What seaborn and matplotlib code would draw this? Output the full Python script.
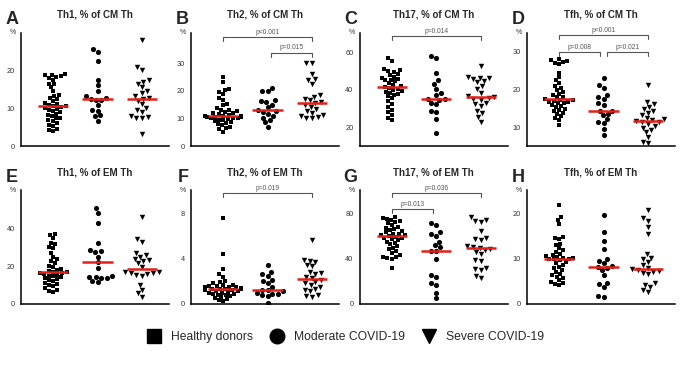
import matplotlib
matplotlib.use("Agg")
import matplotlib.pyplot as plt
from matplotlib.lines import Line2D
import numpy as np
import pandas as pd
import seaborn as sns

GROUPS = ["Healthy donors", "Moderate COVID-19", "Severe COVID-19"]
MARKERS = ["s", "o", "v"]
MARKER_SIZES = [3.1, 3.7, 3.9]

# A: Th1, % of CM Th
th1_cm_healthy = [19.0, 18.8, 18.7, 18.5, 18.3, 18.0, 17.5, 16.5, 16.3, 15.5, 14.5, 13.5, 13.3, 12.8,
                  12.5, 12.0, 11.5, 11.0, 10.8, 10.5, 10.5, 10.3, 10.0, 9.8, 9.5, 9.3, 9.0, 8.5, 8.3,
                  8.0, 7.5, 7.3, 6.8, 6.5, 6.0, 5.5, 5.3, 4.5, 4.3, 4.0]
th1_cm_moderate = [25.7, 24.9, 22.6, 17.6, 16.2, 14.6, 13.2, 12.8, 12.5, 12.3, 12.1, 10.8, 9.5, 9.4,
                   8.1, 7.9, 6.7]
th1_cm_severe = [28.0, 21.0, 20.2, 17.5, 17.0, 16.5, 15.5, 14.5, 14.0, 13.2, 12.6, 12.4, 12.0, 11.0,
                 10.0, 9.5, 9.0, 8.0, 7.6, 7.4, 7.3, 3.2]

# B: Th2, % of CM Th
th2_cm_healthy = [24.9, 23.1, 20.6, 20.2, 19.5, 18.8, 17.3, 16.5, 15.2, 14.7, 13.8, 13.2, 13.0, 12.5,
                  12.3, 12.0, 11.8, 11.5, 11.3, 11.0, 10.9, 10.7, 10.5, 10.4, 10.2, 10.0, 10.0, 9.8,
                  9.6, 9.3, 9.0, 8.7, 8.3, 8.0, 7.6, 7.0, 6.5, 6.0, 5.2, 10.6]
th2_cm_moderate = [21.0, 20.0, 19.8, 16.5, 16.2, 15.8, 14.8, 14.0, 13.0, 12.6, 12.3, 11.7, 11.0, 10.3,
                   9.5, 8.7, 7.0]
th2_cm_severe = [30.2, 30.0, 26.0, 24.2, 24.0, 22.5, 18.3, 17.8, 17.0, 16.5, 16.0, 15.5, 15.0, 14.3,
                 13.5, 12.6, 12.0, 11.2, 10.8, 10.5, 10.2, 10.0]

# C: Th17, % of CM Th
th17_cm_healthy = [56.8, 55.5, 51.0, 50.5, 50.0, 49.5, 48.5, 48.0, 38.0, 47.0, 46.5, 46.0, 45.5, 45.0,
                   44.5, 43.5, 42.5, 42.0, 41.5, 41.0, 40.5, 40.0, 39.5, 39.0, 38.5, 37.5, 36.5, 35.5,
                   34.0, 32.5, 31.0, 29.5, 28.0, 26.5, 25.0, 24.0]
th17_cm_moderate = [57.8, 57.0, 49.0, 45.0, 43.0, 40.5, 38.5, 37.0, 35.2, 35.0, 34.8, 33.0, 32.5, 28.5,
                    28.0, 24.3, 17.2]
th17_cm_severe = [52.5, 46.8, 46.5, 46.3, 46.0, 44.5, 44.0, 42.0, 40.5, 38.5, 36.5, 36.0, 35.5, 35.0,
                  34.5, 33.0, 32.5, 31.5, 28.5, 27.5, 25.5, 23.0]

# D: Tfh, % of CM Th
tfh_cm_healthy = [28.0, 27.8, 27.6, 27.4, 27.1, 26.8, 24.5, 23.3, 22.5, 21.8, 21.0, 20.5, 20.0, 19.5,
                  19.0, 18.6, 18.2, 18.0, 17.6, 17.3, 17.0, 16.8, 16.6, 16.4, 16.0, 15.7, 15.4, 15.0,
                  14.7, 14.3, 14.0, 13.5, 13.0, 12.5, 12.0, 10.7, 17.2, 16.9]
tfh_cm_moderate = [23.1, 21.2, 20.4, 18.7, 18.0, 17.6, 16.4, 16.0, 14.5, 14.4, 13.6, 13.3, 12.3, 11.6,
                   11.2, 9.8, 8.2]
tfh_cm_severe = [21.2, 16.8, 16.2, 15.5, 15.0, 14.5, 14.0, 13.3, 12.6, 12.3, 12.0, 11.7, 11.5, 11.4,
                 11.0, 10.5, 10.0, 9.5, 8.8, 7.5, 6.3, 6.0]

# E: Th1, % of EM Th
th1_em_healthy = [37.0, 36.5, 35.0, 32.0, 31.5, 30.0, 29.5, 27.0, 25.0, 23.5, 22.5, 21.5, 20.0, 19.5,
                  18.5, 18.0, 17.5, 17.0, 16.8, 16.5, 16.2, 15.8, 15.3, 15.0, 14.5, 14.0, 13.5, 13.0,
                  12.5, 12.0, 11.0, 10.5, 10.0, 9.5, 8.5, 7.5, 7.0, 6.3]
th1_em_moderate = [50.6, 48.0, 43.0, 32.0, 28.5, 28.0, 27.5, 25.0, 22.0, 18.9, 14.5, 14.2, 14.0, 13.8,
                   13.5, 12.0, 11.5]
th1_em_severe = [46.2, 34.2, 33.0, 27.0, 26.0, 25.0, 24.0, 23.3, 22.5, 21.5, 19.5, 16.9, 16.8, 16.5,
                 16.3, 15.8, 15.5, 15.0, 10.0, 7.4, 5.5, 3.5]

# F: Th2, % of EM Th
th2_em_healthy = [7.6, 4.4, 3.1, 2.6, 2.4, 2.0, 1.9, 1.8, 1.7, 1.65, 1.6, 1.55, 1.5, 1.5, 1.45, 1.4,
                  1.4, 1.35, 1.35, 1.3, 1.3, 1.25, 1.2, 1.15, 1.1, 1.05, 1.0, 0.95, 0.9, 0.85, 0.8,
                  0.75, 0.7, 0.6, 0.5, 0.4, 0.3, 0.25]
th2_em_moderate = [3.4, 2.85, 2.6, 2.5, 2.1, 2.0, 1.8, 1.5, 1.25, 1.2, 1.1, 0.95, 0.9, 0.9, 0.8, 0.7,
                   0.05]
th2_em_severe = [5.6, 3.9, 3.8, 3.7, 3.4, 3.3, 2.8, 2.7, 2.6, 2.4, 2.25, 2.1, 1.9, 1.8, 1.65, 1.5,
                 1.35, 1.2, 1.1, 0.8, 0.7, 0.65]

# G: Th17, % of EM Th
th17_em_healthy = [76.5, 75.5, 74.8, 74.0, 73.0, 72.0, 71.0, 69.5, 68.0, 67.0, 66.0, 65.0, 64.0, 63.0,
                   62.0, 61.5, 61.0, 60.5, 60.0, 59.0, 58.5, 58.0, 57.0, 56.0, 55.0, 54.0, 52.5, 51.0,
                   49.5, 48.0, 46.5, 45.0, 43.0, 41.5, 41.0, 40.5, 40.0, 31.5]
th17_em_moderate = [71.5, 69.5, 63.5, 62.0, 60.0, 55.0, 52.0, 50.0, 47.0, 46.5, 40.0, 25.5, 24.0, 18.5,
                    16.5, 10.0, 5.0]
th17_em_severe = [76.5, 74.0, 73.0, 72.5, 64.5, 58.5, 57.5, 56.5, 51.0, 50.0, 49.5, 48.5, 47.5, 46.0,
                  44.0, 38.5, 37.5, 31.5, 30.5, 30.0, 24.5, 22.5]

# H: Tfh, % of EM Th
tfh_em_healthy = [21.8, 19.2, 18.6, 17.7, 14.7, 14.5, 14.3, 13.3, 13.0, 12.3, 11.5, 11.1, 10.8, 10.6,
                  10.4, 10.2, 10.1, 10.0, 9.9, 9.8, 9.6, 9.3, 9.0, 8.6, 8.2, 7.8, 7.5, 7.0, 6.6, 6.3,
                  6.0, 5.6, 5.2, 4.8, 4.5, 4.3, 4.1, 11.8]
tfh_em_moderate = [19.6, 15.8, 13.9, 12.2, 9.9, 9.5, 9.0, 8.3, 8.1, 8.0, 7.4, 6.3, 4.6, 4.3, 3.8, 1.8,
                   1.5]
tfh_em_severe = [20.6, 19.0, 18.3, 17.0, 15.4, 10.9, 10.2, 9.8, 9.2, 8.5, 7.8, 7.6, 7.4, 7.2, 7.0, 6.8,
                 6.5, 4.5, 4.1, 3.7, 3.0, 2.6]

PANEL_LETTERS = ["A", "B", "C", "D", "E", "F", "G", "H"]
PANEL_TITLES = ["Th1, % of CM Th", "Th2, % of CM Th", "Th17, % of CM Th", "Tfh, % of CM Th",
                "Th1, % of EM Th", "Th2, % of EM Th", "Th17, % of EM Th", "Tfh, % of EM Th"]
PANEL_DATA = [
    (th1_cm_healthy, th1_cm_moderate, th1_cm_severe),
    (th2_cm_healthy, th2_cm_moderate, th2_cm_severe),
    (th17_cm_healthy, th17_cm_moderate, th17_cm_severe),
    (tfh_cm_healthy, tfh_cm_moderate, tfh_cm_severe),
    (th1_em_healthy, th1_em_moderate, th1_em_severe),
    (th2_em_healthy, th2_em_moderate, th2_em_severe),
    (th17_em_healthy, th17_em_moderate, th17_em_severe),
    (tfh_em_healthy, tfh_em_moderate, tfh_em_severe),
]
Y_LIMITS = [(0, 30), (0, 41), (10, 70.5), (5.2, 35), (0, 60), (0, 10), (0, 100), (0, 25)]
Y_TICKS = [[0, 10, 20], [0, 10, 20, 30], [20, 40, 60], [10, 20, 30],
           [0, 20, 40], [0, 4, 8], [0, 40, 80], [0, 10, 20]]

# significance brackets: (panel, from group, to group, height, label)
BRACKETS = [
    (1, 0, 2, 39.5, "p<0.001"),
    (1, 1, 2, 33.8, "p=0.015"),
    (2, 0, 2, 68.5, "p=0.014"),
    (3, 0, 2, 34.3, "p<0.001"),
    (3, 0, 1, 30.0, "p=0.008"),
    (3, 1, 2, 30.0, "p=0.021"),
    (5, 0, 2, 9.8, "p=0.019"),
    (6, 0, 2, 97.5, "p=0.036"),
    (6, 0, 1, 83.5, "p=0.013"),
]

sns.set_style("white")
plt.rcParams["font.family"] = ["Liberation Sans", "DejaVu Sans"]

fig = plt.figure(figsize=(7.0, 3.67), dpi=100)

AX_LEFTS = [0.030, 0.273, 0.514, 0.753]
AX_WIDTH = 0.211
ROW_BOTTOMS = [0.602, 0.172]
ROW_HEIGHT = 0.309

axes = []
for row in range(2):
    for col in range(4):
        axes.append(fig.add_axes([AX_LEFTS[col], ROW_BOTTOMS[row], AX_WIDTH, ROW_HEIGHT]))

for k, ax in enumerate(axes):
    frames = []
    for g, vals in zip(GROUPS, PANEL_DATA[k]):
        frames.append(pd.DataFrame({"group": g, "value": vals}))
    df = pd.concat(frames, ignore_index=True)

    for g, m, sz in zip(GROUPS, MARKERS, MARKER_SIZES):
        sub = df[df["group"] == g]
        sns.swarmplot(data=sub, x="group", y="value", order=GROUPS, marker=m,
                      color="black", size=sz, ax=ax, zorder=3)

    # red median bars
    for i, g in enumerate(GROUPS):
        med = np.median(df.loc[df["group"] == g, "value"])
        ax.hlines(med, i - 0.34, i + 0.34, color="#e3201b", lw=1.8, zorder=5)

    ax.set_xlim(-0.72, 2.6)
    ax.set_ylim(*Y_LIMITS[k])
    ax.set_yticks(Y_TICKS[k])
    ax.set_xticks([0, 1, 2])
    ax.set_xticklabels([])
    ax.set_xlabel("")
    ax.set_ylabel("")
    sns.despine(ax=ax)
    for s in ["left", "bottom"]:
        ax.spines[s].set_linewidth(1.1)
        ax.spines[s].set_color("black")
    ax.tick_params(axis="both", direction="out", length=3, width=0.9, color="black",
                   labelsize=5.3, labelcolor="#333333", pad=1.5)
    ax.set_title(PANEL_TITLES[k], fontsize=7, fontweight="bold", pad=11)
    ax.text(-0.035, 1.0, "%", transform=ax.transAxes, fontsize=5, ha="right",
            va="center", color="#333333")

    pos = ax.get_position()
    fig.text(pos.x0 - 0.004, pos.y1 + 0.036, PANEL_LETTERS[k], fontsize=13,
             fontweight="bold", ha="right", va="center")

# p-value brackets
for k, i, j, h, label in BRACKETS:
    ax = axes[k]
    lo, hi = Y_LIMITS[k]
    drop = 0.035 * (hi - lo)
    x0 = i + (0.08 if (j - i == 1 and i == 1) else 0)
    x1 = j - (0.08 if (j - i == 1 and j == 1) else 0)
    ax.plot([x0, x0, x1, x1], [h - drop, h, h, h - drop], color="#555555", lw=0.8,
            clip_on=False, zorder=4)
    ax.text((x0 + x1) / 2, h + 0.01 * (hi - lo), label, ha="center", va="bottom",
            fontsize=4.8, color="#555555", clip_on=False)

handles = [Line2D([], [], marker=m, color="black", linestyle="", markersize=10.5)
           for m in MARKERS]
fig.legend(handles, GROUPS, loc="center", bbox_to_anchor=(0.49, 0.082), ncol=3,
           frameon=False, fontsize=8.7, handletextpad=0.4, columnspacing=1.0)

fig.savefig("out.png", dpi=100)
